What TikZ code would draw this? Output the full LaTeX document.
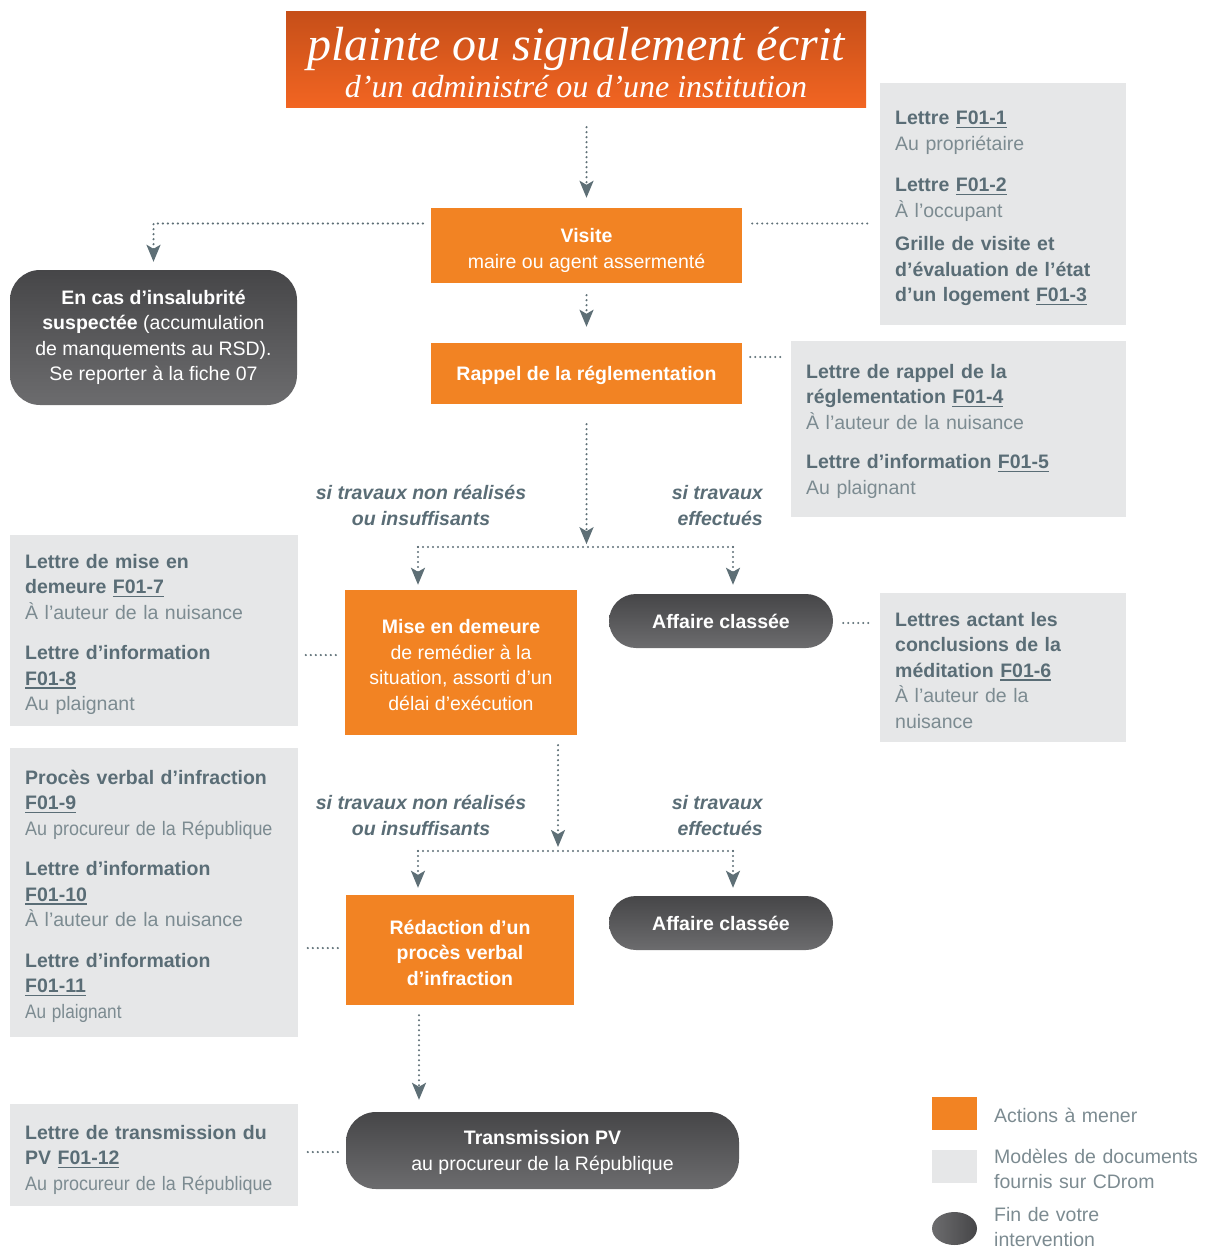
\documentclass[tikz,border=0pt]{standalone}
\usepackage{fontspec}
\usepackage{graphicx}
\setmainfont{Liberation Sans}
\newfontfamily\titlefont{Liberation Serif}
\usetikzlibrary{arrows.meta, calc, shapes.geometric}

\definecolor{actorange}{HTML}{F28323}
\definecolor{titletop}{HTML}{C64F19}
\definecolor{titlebottom}{HTML}{F26522}
\definecolor{endtop}{HTML}{464648}
\definecolor{endbottom}{HTML}{6C6C6E}
\definecolor{docgray}{HTML}{E6E7E8}
\definecolor{docdark}{HTML}{5A6D76}
\definecolor{docplain}{HTML}{7C8B91}
\definecolor{linkgray}{HTML}{5E6F76}

\newcommand{\code}[1]{\setbox0\hbox{#1}\rlap{\rule[-3.5pt]{\wd0}{1.3pt}}\box0}
\newcommand{\doctitle}[1]{\textbf{\color{docdark}#1}}
\newcommand{\narrowtext}[2][0.92]{\scalebox{#1}[1]{#2}}

\begin{document}
\begin{tikzpicture}[x=1pt, y=-1pt,
  font=\fontsize{19.5}{25.5}\selectfont,
  action/.style={rectangle, fill=actorange, text=white, align=center, inner sep=0pt},
  finish/.style={rectangle, rounded corners=#1, top color=endtop, bottom color=endbottom,
    text=white, align=center, inner sep=0pt},
  finish/.default=28pt,
  docbox/.style={rectangle, fill=docgray, inner sep=0pt},
  doctext/.style={anchor=base west, align=left, inner sep=0pt, text=docplain},
  iflabel/.style={font=\fontsize{19.5}{25.5}\selectfont\bfseries\itshape, text=docdark, inner sep=0pt},
  dotlink/.style={draw=linkgray, line width=2.4pt, line cap=round, dash pattern=on 0pt off 5pt},
  flowarrow/.style={dotlink, -{Stealth[length=17pt, width=14pt, inset=4pt]}}
]
\useasboundingbox (0,0) rectangle (1208,1249);

% Main steps
\node[rectangle, top color=titletop, bottom color=titlebottom, minimum width=580, minimum height=96,
  inner sep=0pt, text=white, align=center, font=\titlefont\itshape\fontsize{32}{37}\selectfont]
  (complaint) at (576,60) {\rule{0pt}{38pt}{\fontsize{48}{37}\selectfont plainte ou signalement écrit}\\ d’un administré ou d’une institution};
\node[action, minimum width=311, minimum height=75] (visite) at (586.5,245.5) {\rule{0pt}{24pt}\textbf{Visite}\\ maire ou agent assermenté};
\node[action, minimum width=311, minimum height=61, text depth=0pt, font=\fontsize{19.5}{25.5}\selectfont\bfseries] (rappel) at (586.5,373.5) {Rappel de la réglementation};
\node[action, minimum width=232, minimum height=145] (mise) at (461,662.5) {\rule{0pt}{19pt}\textbf{Mise en demeure}\\ de remédier à la\\ situation, assorti d’un\\ délai d’exécution};
\node[action, minimum width=228, minimum height=110, font=\fontsize{19.5}{25.5}\selectfont\bfseries] (redaction) at (460,950) {\rule{0pt}{20pt}Rédaction d’un\\ procès verbal\\ d’infraction};

% End of procedure
\node[finish=30pt, minimum width=287, minimum height=135] (insalubrite) at (153.5,337.5) {\textbf{En cas d’insalubrité}\\ \textbf{suspectée} (accumulation\\ de manquements au RSD).\\ Se reporter à la fiche 07};
\node[finish=27pt, minimum width=224, minimum height=54, font=\fontsize{19.5}{25.5}\selectfont\bfseries] (classeeA) at (721,621) {Affaire classée};
\node[finish=27pt, minimum width=224, minimum height=54, font=\fontsize{19.5}{25.5}\selectfont\bfseries] (classeeB) at (721,923) {Affaire classée};
\node[finish=30pt, minimum width=393, minimum height=77] (transmission) at (542.5,1150.5) {\rule{0pt}{18pt}\textbf{Transmission PV}\\ au procureur de la République};

% Document models
\node[docbox, minimum width=246, minimum height=242] (docvisite) at (1003,204) {};
\node[doctext, text width=231] (docvisitetext) at (895,125) {\doctitle{Lettre \code{F01-1}}\\
  Au propriétaire\\[16pt]
  \doctitle{Lettre \code{F01-2}}\\
  À l’occupant\\[8pt]
  \doctitle{Grille de visite et}\\
  \doctitle{d’évaluation de l’état}\\
  \doctitle{d’un logement \code{F01-3}}};

\node[docbox, minimum width=335, minimum height=176] (docrappel) at (958.5,429) {};
\node[doctext, text width=320] (docrappeltext) at (806,378) {\doctitle{Lettre de rappel de la}\\
  \doctitle{réglementation \code{F01-4}}\\
  À l’auteur de la nuisance\\[14pt]
  \doctitle{Lettre d’information \code{F01-5}}\\
  Au plaignant};

\node[docbox, minimum width=246, minimum height=149] (docaffaire) at (1003,667.5) {};
\node[doctext, text width=231] (docaffairetext) at (895,626) {\doctitle{Lettres actant les}\\
  \doctitle{conclusions de la}\\
  \doctitle{méditation \code{F01-6}}\\
  À l’auteur de la\\
  nuisance};

\node[docbox, minimum width=288, minimum height=191] (docmise) at (154,630.5) {};
\node[doctext, text width=273] (docmisetext) at (25,568) {\doctitle{Lettre de mise en}\\
  \doctitle{demeure \code{F01-7}}\\
  À l’auteur de la nuisance\\[15pt]
  \doctitle{Lettre d’information}\\
  \doctitle{\code{F01-8}}\\
  Au plaignant};

\node[docbox, minimum width=288, minimum height=289] (docredac) at (154,892.5) {};
\node[doctext, text width=273] (docredactext) at (25,784) {\doctitle{Procès verbal d’infraction}\\
  \doctitle{\code{F01-9}}\\
  \narrowtext{Au procureur de la République}\\[15pt]
  \doctitle{Lettre d’information}\\
  \doctitle{\code{F01-10}}\\
  À l’auteur de la nuisance\\[15pt]
  \doctitle{Lettre d’information}\\
  \doctitle{\code{F01-11}}\\
  \narrowtext[0.88]{Au plaignant}};

\node[docbox, minimum width=288, minimum height=102] (doctrans) at (154,1155) {};
\node[doctext, text width=273] (doctranstext) at (25,1139) {\doctitle{Lettre de transmission du}\\
  \doctitle{PV \code{F01-12}}\\
  \narrowtext{Au procureur de la République}};

% Branch labels
\node[iflabel, align=center] (ifnotA) at (421,505.5) {si travaux non réalisés\\ ou insuffisants};
\node[iflabel, align=right, anchor=east] (ifdoneA) at (763,505.5) {si travaux\\ effectués};
\node[iflabel, align=center] (ifnotB) at (421,815.5) {si travaux non réalisés\\ ou insuffisants};
\node[iflabel, align=right, anchor=east] (ifdoneB) at (763,815.5) {si travaux\\ effectués};

% Connectors
\draw[flowarrow, shorten <=19pt, shorten >=10pt] (complaint.south -| visite.north) -- (visite.north);

\coordinate (visiteL) at ($(visite.west)+(-8,-22)$);
\draw[flowarrow, shorten >=8pt] (visiteL) -| (insalubrite.north);
\coordinate (visiteR) at ($(visite.east)+(10,-22)$);
\draw[dotlink, shorten >=12pt] (visiteR) -- (visiteR -| docvisite.west);

\draw[flowarrow, shorten <=12pt, shorten >=16pt] (visite) -- (rappel);
\coordinate (rappelR) at ($(rappel.east)+(8,-16.5)$);
\draw[dotlink, shorten >=9pt] (rappelR) -- (rappelR -| docrappel.west);

\coordinate (splitA) at ($(rappel.south)+(0,143)$);
\coordinate (splitAL) at (418,547);
\coordinate (splitAR) at (733,547);
\draw[flowarrow, shorten <=20pt, shorten >=3pt] (rappel.south) -- (splitA);
\draw[dotlink] (splitAL) -- (splitAR);
\draw[flowarrow, shorten >=5pt] (splitAL) -- (splitAL |- mise.north);
\draw[flowarrow, shorten >=9pt] (splitAR) -- (splitAR |- classeeA.north);

\coordinate (miseL) at ($(mise.west)+(-9,-7.5)$);
\draw[dotlink, shorten >=7pt] (miseL) -- (miseL -| docmise.east);
\coordinate (classeeR) at ($(classeeA.east)+(10,2)$);
\draw[dotlink, shorten >=7pt] (classeeR) -- (classeeR -| docaffaire.west);

\coordinate (splitB) at (558,851);
\coordinate (splitBL) at (418,851);
\coordinate (splitBR) at (733,851);
\draw[flowarrow, shorten <=10pt, shorten >=4pt] (mise.south -| splitB) -- (splitB);
\draw[dotlink] (splitBL) -- (splitBR);
\draw[flowarrow, shorten >=7pt] (splitBL) -- (splitBL |- redaction.north);
\draw[flowarrow, shorten >=8pt] (splitBR) -- (splitBR |- classeeB.north);

\coordinate (redacL) at ($(redaction.west)+(-8,-2)$);
\draw[dotlink, shorten >=7pt] (redacL) -- (redacL -| docredac.east);
\coordinate (redacOut) at ($(redaction.south)+(-41,0)$);
\draw[flowarrow, shorten <=10pt, shorten >=12pt] (redacOut) -- (redacOut |- transmission.north);
\coordinate (transL) at ($(transmission.west)+(-8,1.5)$);
\draw[dotlink, shorten >=8pt] (transL) -- (transL -| doctrans.east);

% Legend
\node[rectangle, fill=actorange, minimum width=45, minimum height=33, inner sep=0pt] (keyaction) at (954.5,1113.5) {};
\node[docbox, minimum width=45, minimum height=33] (keydoc) at (954.5,1166.5) {};
\node[ellipse, left color=endbottom, right color=endtop, minimum width=45, minimum height=33, inner sep=0pt] (keyend) at (954.5,1228.5) {};
\node[doctext, text width=214] (keyactiontext) at (994,1122) {Actions à mener};
\node[doctext, text width=214] (keydoctext) at (994,1163) {Modèles de documents\\ fournis sur CDrom};
\node[doctext, text width=214] (keyendtext) at (994,1221) {Fin de votre\\ intervention};
\end{tikzpicture}
\end{document}
